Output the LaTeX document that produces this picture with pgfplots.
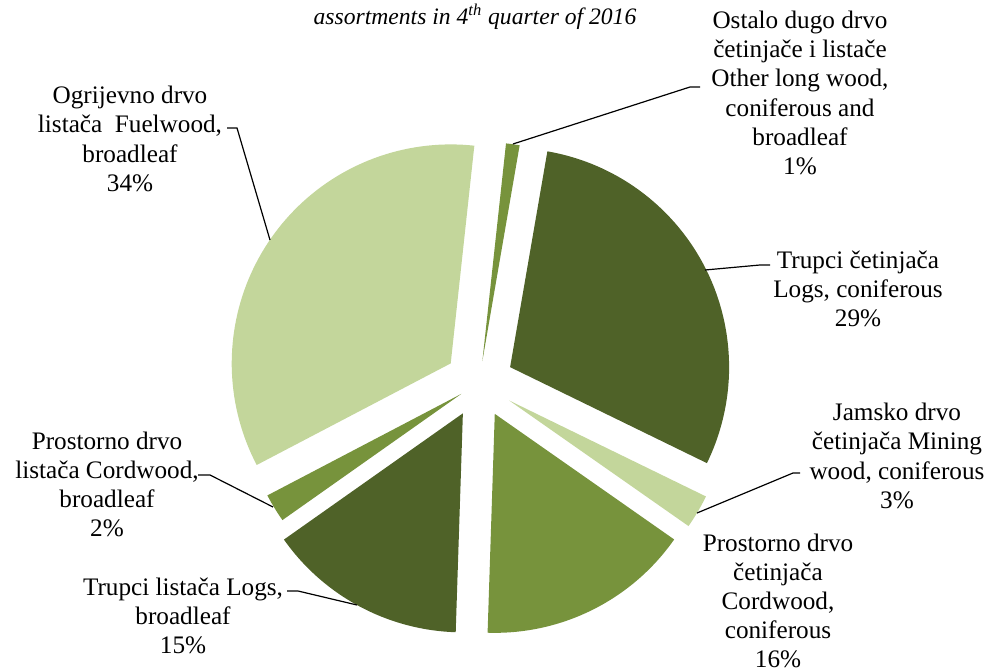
\documentclass[border=0pt]{standalone}
\usepackage{pgfplots}
\pgfplotsset{compat=1.18}
\usepackage{fontspec}
\setmainfont{Liberation Serif}
\definecolor{dk}{HTML}{4F6228}
\definecolor{md}{HTML}{77933C}
\definecolor{lt}{HTML}{C3D69B}
\tikzset{lbl/.style={font=\fontsize{12.6}{14.6}\selectfont, align=center, inner sep=0pt}}
% shares in percent (clockwise from the first slice)
\def\vOst{1.0}   % Ostalo dugo drvo
\def\vTC{29.5}   % Trupci cetinjaca
\def\vJam{2.5}   % Jamsko drvo
\def\vPC{15.8}   % Prostorno drvo cetinjaca
\def\vTL{14.7}   % Trupci listaca
\def\vPL{2.1}    % Prostorno drvo listaca
\def\vOgr{34.4}  % Ogrijevno drvo listaca
\pgfmathsetmacro\aA{6.2}
\pgfmathsetmacro\aB{\aA+3.6*\vOst}
\pgfmathsetmacro\aC{\aB+3.6*\vTC}
\pgfmathsetmacro\aD{\aC+3.6*\vJam}
\pgfmathsetmacro\aE{\aD+3.6*\vPC}
\pgfmathsetmacro\aF{\aE+3.6*\vTL}
\pgfmathsetmacro\aG{\aF+3.6*\vPL}
\pgfmathsetmacro\aH{\aG+3.6*\vOgr}
\newcommand\slice[4]{%
  \pgfmathsetmacro\smid{(#2+#3)/2}%
  \pgfmathsetmacro\tx{479.3+#4*sin(\smid)}%
  \pgfmathsetmacro\ty{382.9-#4*cos(\smid)}%
  \edef\temp{\noexpand\addplot[fill=#1, draw=none, domain=#2:#3, samples=80, variable=\noexpand\t]
    ({\tx+219*sin(\noexpand\t)},{\ty-219*cos(\noexpand\t)}) -- (axis cs:\tx,\ty) -- cycle;}%
  \temp}
\begin{document}
\begin{tikzpicture}
\begin{axis}[
  scale only axis, width=494.5pt, height=336pt,
  xmin=0, xmax=989, ymin=0, ymax=672, y dir=reverse,
  axis lines=none, clip=false,
]
\slice{md}{\aA}{\aB}{22}
\slice{dk}{\aB}{\aC}{34.6}
\slice{lt}{\aC}{\aD}{34.6}
\slice{md}{\aD}{\aE}{34.6}
\slice{dk}{\aE}{\aF}{34.6}
\slice{md}{\aF}{\aG}{21}
\slice{lt}{\aG}{\aH}{34.6}

\node[lbl, font=\fontsize{11.8}{14}\selectfont\itshape] at (axis cs:475,17) {assortments in 4\textsuperscript{th} quarter of 2016};

\draw[black, line width=0.6pt] (axis cs:513,144) -- (axis cs:690,87) -- (axis cs:700,87);
\draw[black, line width=0.6pt] (axis cs:705,270) -- (axis cs:760,265) -- (axis cs:770,265);
\draw[black, line width=0.6pt] (axis cs:697,513) -- (axis cs:793,473) -- (axis cs:800,473);
\draw[black, line width=0.6pt] (axis cs:357,605) -- (axis cs:298,591) -- (axis cs:287,591);
\draw[black, line width=0.6pt] (axis cs:273,507) -- (axis cs:210,475) -- (axis cs:198,475);
\draw[black, line width=0.6pt] (axis cs:270,240) -- (axis cs:237,128) -- (axis cs:227,128);

\node[lbl] at (axis cs:800,93) {Ostalo dugo drvo\\četinjače i listače\\Other long wood,\\coniferous and\\broadleaf\\1\%};
\node[lbl] at (axis cs:858,289) {Trupci četinjača\\Logs, coniferous\\29\%};
\node[lbl] at (axis cs:897,456) {Jamsko drvo\\četinjača Mining\\wood, coniferous\\3\%};
\node[lbl] at (axis cs:778,601) {Prostorno drvo\\četinjača\\Cordwood,\\coniferous\\16\%};
\node[lbl] at (axis cs:183,616) {Trupci listača Logs,\\broadleaf\\15\%};
\node[lbl] at (axis cs:107,484.5) {Prostorno drvo\\listača Cordwood,\\broadleaf\\2\%};
\node[lbl] at (axis cs:130,139) {Ogrijevno drvo\\listača\ \ Fuelwood,\\broadleaf\\34\%};
\end{axis}
\pgfresetboundingbox
\useasboundingbox (current axis.south west) rectangle (current axis.north east);
\end{tikzpicture}
\end{document}
